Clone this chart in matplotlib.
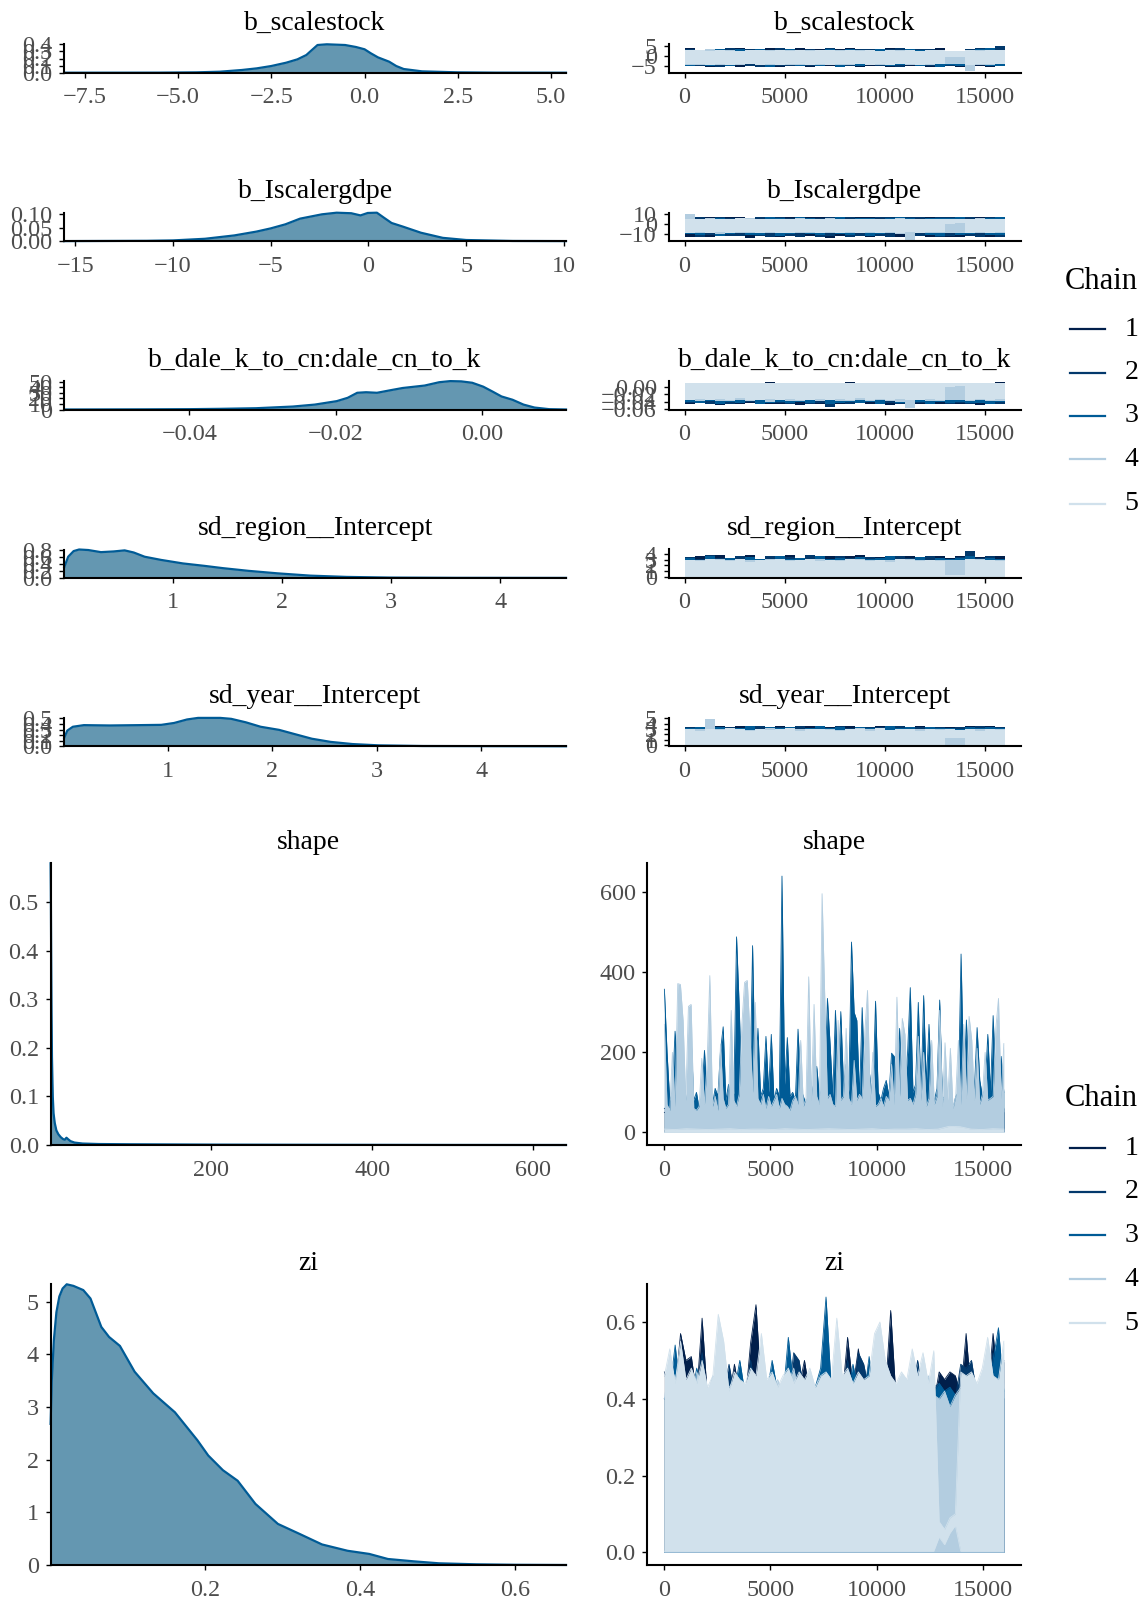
import numpy as np
import matplotlib
matplotlib.use("Agg")
import matplotlib.pyplot as plt
from matplotlib.lines import Line2D

plt.rcParams['font.family'] = ['Liberation Serif', 'DejaVu Serif']

W, H = 1148, 1605

# ---------------- data ----------------
chain_labels = ["1", "2", "3", "4", "5"]
chain_colors = ["#011f4b", "#03396c", "#005b96", "#b3cde0", "#d1e1ec"]
n_iter = 16000

titles = ["b_scalestock", "b_Iscalergdpe", "b_dale_k_to_cn:dale_cn_to_k",
          "sd_region__Intercept", "sd_year__Intercept", "shape", "zi"]

# posterior densities (x, density)
dens_scalestock_x = [-8.05, -6.5, -5.5, -4.5, -3.88, -3.29, -2.89, -2.5, -2.1, -1.8, -1.56, -1.41, -1.26,
                     -1.01, -0.52, -0.23, 0.0, 0.17, 0.36, 0.66, 0.85, 1.05, 1.54, 2.5, 3.5, 5.4]
dens_scalestock_y = [0.0, 0.0003, 0.001, 0.005, 0.014, 0.038, 0.061, 0.094, 0.141, 0.188, 0.249, 0.32, 0.39,
                     0.40, 0.39, 0.362, 0.33, 0.273, 0.216, 0.155, 0.094, 0.052, 0.019, 0.005, 0.001, 0.0]

dens_gdpe_x = [-15.56, -11.35, -10.0, -8.36, -6.86, -5.74, -5.0, -4.25, -3.5, -2.94, -2.38, -1.63,
               -0.88, -0.41, -0.04, 0.43, 0.8, 1.18, 1.74, 2.68, 3.8, 5.0, 7.37, 10.1]
dens_gdpe_y = [0.0, 0.001, 0.0025, 0.0086, 0.021, 0.035, 0.047, 0.062, 0.083, 0.091, 0.099, 0.105,
               0.103, 0.095, 0.104, 0.105, 0.086, 0.067, 0.054, 0.031, 0.012, 0.004, 0.0005, 0.0]

dens_dale_x = [-0.0571, -0.0458, -0.04, -0.0358, -0.0309, -0.0259, -0.0229, -0.0199, -0.0184, -0.0171,
               -0.0159, -0.0144, -0.0124, -0.0109, -0.0079, -0.0059, -0.0044, -0.0029, -0.0014, 0.0001,
               0.0014, 0.0026, 0.0041, 0.0056, 0.0071, 0.0091, 0.0114]
dens_dale_y = [0.0, 0.3, 0.6, 1.2, 2.3, 5.3, 8.8, 15.0, 21.0, 30.0, 31.0, 30.0, 35.0, 38.6, 43.0, 49.0,
               51.0, 50.5, 48.0, 41.0, 32.0, 23.4, 17.5, 8.8, 3.5, 0.6, 0.0]

dens_region_x = [0.0066, 0.043, 0.093, 0.143, 0.227, 0.343, 0.46, 0.56, 0.643, 0.743, 0.893, 1.093,
                 1.293, 1.46, 1.693, 1.96, 2.26, 2.59, 2.99, 3.59, 4.6]
dens_region_y = [0.30, 0.6, 0.76, 0.805, 0.79, 0.73, 0.75, 0.78, 0.72, 0.6, 0.51, 0.41, 0.34, 0.276,
                 0.20, 0.129, 0.064, 0.028, 0.009, 0.002, 0.0]

dens_year_x = [0.012, 0.042, 0.095, 0.2, 0.447, 0.729, 0.94, 1.063, 1.187, 1.292, 1.504, 1.609, 1.75,
               1.89, 2.067, 2.2, 2.38, 2.56, 2.77, 3.02, 3.44, 4.81]
dens_year_y = [0.153, 0.283, 0.351, 0.38, 0.374, 0.38, 0.385, 0.419, 0.482, 0.51, 0.51, 0.493, 0.43,
               0.351, 0.295, 0.227, 0.136, 0.079, 0.04, 0.017, 0.005, 0.0]

dens_shape_x = [0.3, 0.6, 1.0, 1.5, 2.0, 3.0, 4.0, 5.5, 7.5, 10, 13, 16, 18, 20, 22, 25, 30, 40, 60,
                100, 200, 300, 400, 500, 641]
dens_shape_y = [0.58, 0.52, 0.40, 0.27, 0.18, 0.10, 0.065, 0.045, 0.03, 0.022, 0.016, 0.012, 0.011,
                0.015, 0.012, 0.008, 0.005, 0.003, 0.002, 0.0015, 0.0008, 0.0005, 0.0003, 0.0001, 0.0]

dens_zi_x = [0.0005, 0.002, 0.0047, 0.008, 0.0118, 0.016, 0.0213, 0.03, 0.0427, 0.052, 0.066, 0.076,
             0.09, 0.109, 0.133, 0.161, 0.19, 0.204, 0.223, 0.242, 0.265, 0.294, 0.322, 0.351, 0.384,
             0.412, 0.436, 0.469, 0.502, 0.55, 0.6, 0.666]
dens_zi_y = [2.68, 3.5, 4.27, 4.8, 5.1, 5.25, 5.33, 5.3, 5.22, 5.06, 4.52, 4.33, 4.16, 3.67, 3.26, 2.9,
             2.37, 2.08, 1.8, 1.6, 1.16, 0.78, 0.59, 0.39, 0.27, 0.21, 0.114, 0.07, 0.032, 0.013, 0.004, 0.0]

# trace envelopes per chain (upper / lower value per block of iterations), chains 1..5
tr_scalestock_hi = [
    [4.0, 2.6, 3.1, 3.8, 2.7, 3.9, 2.5, 3.6, 4.1, 2.8, 3.5, 3.9, 2.6, 3.7, 2.9, 3.8,
     4.0, 2.7, 3.5, 2.9, 3.9, 2.6, 3.6, 3.8, 2.8, 4.0, 2.4, 2.6, 3.3, 3.6, 4.4, 3.8],
    [3.8, 3.2, 2.6, 3.0, 3.9, 2.7, 3.6, 3.3, 2.5, 4.1, 3.2, 2.8, 3.4, 3.1, 3.9, 2.6,
     3.0, 3.6, 3.8, 2.7, 3.5, 3.9, 2.8, 3.4, 3.7, 2.6, 2.4, 2.5, 3.8, 4.2, 3.5, 5.4],
    [3.3, 2.8, 3.0, 3.6, 2.9, 3.4, 2.8, 3.5, 3.2, 2.9, 3.7, 3.0, 2.8, 3.3, 3.6, 2.9,
     3.4, 3.1, 2.8, 3.5, 3.2, 2.9, 3.6, 3.0, 3.3, 2.9, 2.2, 2.3, 3.0, 3.8, 4.0, 3.1],
    [2.7, 2.9, 3.4, 2.6, 3.1, 2.8, 2.7, 3.0, 2.9, 2.6, 3.0, 2.8, 3.3, 2.7, 2.8, 3.1,
     2.6, 2.9, 3.0, 2.8, 2.7, 3.2, 2.9, 2.8, 3.0, 2.7, 2.4, 2.3, 2.8, 3.0, 2.9, 3.2],
    [2.9, 3.1, 2.7, 3.0, 2.8, 2.6, 3.2, 2.9, 2.7, 3.0, 2.8, 3.1, 2.6, 2.9, 3.0, 2.7,
     3.1, 2.8, 2.9, 2.6, 3.0, 2.8, 3.1, 2.7, 2.9, 3.0, 2.8, 2.7, 3.0, 2.8, 3.1, 2.9]]
tr_scalestock_lo = [
    [-5.4, -4.3, -5.6, -5.1, -4.2, -5.7, -5.0, -4.4, -4.9, -5.6, -4.3, -5.4, -5.8, -4.2, -5.2, -5.5,
     -4.4, -5.7, -5.1, -4.3, -5.6, -4.9, -5.4, -4.2, -5.8, -5.1, -5.3, -5.5, -4.4, -5.4, -5.7, -5.1],
    [-4.8, -5.3, -4.2, -5.5, -4.7, -4.3, -5.0, -5.6, -4.2, -5.1, -5.4, -4.3, -5.2, -5.0, -4.4, -4.8,
     -5.3, -4.2, -4.9, -5.4, -4.3, -5.6, -4.8, -4.2, -5.1, -4.9, -5.3, -5.0, -5.5, -4.3, -4.9, -5.2],
    [-5.0, -4.6, -5.3, -4.2, -5.4, -4.7, -4.3, -4.9, -5.5, -4.8, -4.2, -5.0, -4.7, -5.3, -4.3, -5.6,
     -4.8, -5.1, -4.2, -4.9, -5.2, -4.8, -4.3, -5.0, -4.9, -5.5, -4.8, -5.2, -5.6, -4.2, -5.1, -5.4],
    [-4.5, -4.9, -4.3, -4.6, -4.4, -4.8, -4.3, -4.5, -4.7, -4.3, -4.6, -4.5, -4.4, -4.7, -4.3, -4.5,
     -4.8, -4.4, -4.3, -4.7, -4.4, -4.3, -4.6, -4.8, -4.5, -4.4, -4.0, -4.1, -8.05, -4.6, -4.5, -4.4],
    [-4.4, -4.2, -4.6, -4.3, -4.5, -4.1, -4.4, -4.6, -4.2, -4.5, -4.3, -4.4, -4.6, -4.2, -4.5, -4.3,
     -4.4, -4.2, -4.6, -4.3, -4.5, -4.4, -4.2, -4.6, -4.3, -4.4, -0.4, -0.3, -4.5, -4.3, -4.4, -4.2]]

tr_gdpe_hi = [
    [7.0, 4.8, 7.3, 5.0, 7.5, 6.7, 4.9, 6.9, 7.4, 5.1, 7.2, 4.7, 6.8, 7.6, 5.0, 7.1,
     4.9, 7.3, 6.8, 5.2, 6.9, 7.2, 4.8, 7.4, 7.0, 5.1, 7.3, 7.1, 4.9, 7.2, 7.6, 7.0],
    [6.8, 7.2, 5.0, 7.0, 6.6, 4.8, 6.5, 7.1, 5.0, 7.3, 6.5, 6.9, 4.9, 6.6, 7.0, 5.1,
     7.2, 6.5, 4.8, 6.9, 7.4, 5.0, 7.0, 6.7, 4.9, 6.9, 7.1, 6.6, 7.2, 5.0, 7.0, 6.7],
    [6.2, 5.0, 6.6, 6.0, 4.9, 5.9, 6.4, 5.1, 6.8, 5.9, 4.8, 6.7, 6.0, 5.0, 5.9, 6.8,
     5.2, 6.0, 6.6, 4.9, 5.9, 6.7, 6.1, 5.0, 6.0, 6.6, 6.2, 6.9, 5.1, 6.5, 6.0, 6.8],
    [10.1, 5.0, 5.8, 5.1, 5.5, 5.2, 5.9, 5.0, 5.3, 5.6, 5.1, 5.7, 5.0, 5.4, 5.8, 5.1,
     5.3, 5.6, 5.0, 5.5, 5.2, 5.7, 5.1, 5.4, 5.0, 5.6, 4.5, 4.2, 5.3, 5.7, 5.0, 5.4],
    [5.2, 5.6, 4.9, 5.4, 5.1, 5.7, 5.0, 5.3, 5.5, 4.8, 5.4, 5.2, 5.6, 5.0, 5.3, 5.5,
     4.9, 5.2, 5.4, 5.1, 5.6, 5.0, 5.3, 4.9, 5.5, 5.2, 5.5, 5.3, 5.4, 5.0, 5.3, 5.1]]
tr_gdpe_lo = [
    [-12.5, -8.4, -13.2, -12.1, -8.6, -11.6, -13.4, -8.2, -11.9, -12.7, -8.5, -12.2, -11.7, -8.3, -13.3, -12.0,
     -8.6, -11.8, -13.1, -8.4, -11.9, -12.7, -8.2, -12.1, -12.5, -8.5, -13.0, -12.4, -8.3, -11.7, -12.6, -13.1],
    [-8.5, -12.6, -11.2, -8.3, -12.0, -11.6, -8.6, -11.4, -12.3, -8.4, -11.7, -12.5, -8.2, -13.0, -12.2, -8.5,
     -12.8, -12.1, -8.3, -11.8, -12.4, -8.6, -12.7, -11.6, -8.4, -12.3, -11.9, -8.5, -12.2, -13.0, -8.3, -12.5],
    [-9.5, -10.8, -8.4, -11.5, -10.2, -8.5, -11.0, -10.4, -8.3, -11.8, -10.1, -8.6, -9.8, -11.2, -8.4, -9.9,
     -10.9, -8.5, -11.4, -9.8, -8.3, -10.2, -11.1, -8.6, -10.6, -11.3, -8.4, -10.8, -9.7, -8.5, -10.4, -10.9],
    [-8.6, -8.9, -8.2, -9.3, -8.5, -8.8, -9.0, -8.4, -8.7, -9.2, -8.3, -8.6, -8.9, -8.5, -9.1, -8.4,
     -8.8, -8.6, -9.0, -8.3, -8.7, -9.3, -15.56, -8.5, -8.8, -8.6, -8.5, -8.9, -8.4, -8.7, -9.0, -8.5],
    [-8.3, -7.9, -8.6, -8.1, -8.4, -7.8, -8.2, -8.5, -8.0, -8.3, -8.6, -7.9, -8.2, -8.4, -8.1, -8.5,
     -7.9, -8.3, -8.2, -8.6, -8.0, -8.4, -8.1, -8.3, -7.9, -8.2, 0.5, 0.8, -8.4, -8.1, -8.3, -8.0]]

tr_dale_hi = [
    [0.0110, 0.0105, 0.0101, 0.0109, 0.0104, 0.0111, 0.0100, 0.0107, 0.0112, 0.0103, 0.0108, 0.0101,
     0.0110, 0.0105, 0.0102, 0.0109, 0.0114, 0.0104, 0.0100, 0.0108, 0.0103, 0.0110, 0.0105, 0.0101,
     0.0109, 0.0104, 0.0107, 0.0102, 0.0110, 0.0105, 0.0108, 0.0112],
    [0.0108, 0.0102, 0.0110, 0.0104, 0.0099, 0.0109, 0.0103, 0.0111, 0.0100, 0.0106, 0.0109, 0.0101,
     0.0107, 0.0103, 0.0110, 0.0099, 0.0106, 0.0102, 0.0109, 0.0104, 0.0111, 0.0100, 0.0107, 0.0103,
     0.0108, 0.0101, 0.0105, 0.0110, 0.0102, 0.0106, 0.0109, 0.0103],
    [0.0104, 0.0099, 0.0108, 0.0101, 0.0106, 0.0098, 0.0109, 0.0102, 0.0097, 0.0107, 0.0100, 0.0105,
     0.0098, 0.0110, 0.0101, 0.0104, 0.0099, 0.0107, 0.0102, 0.0106, 0.0098, 0.0105, 0.0100, 0.0108,
     0.0101, 0.0104, 0.0099, 0.0106, 0.0100, 0.0107, 0.0102, 0.0105],
    [0.0098, 0.0103, 0.0095, 0.0100, 0.0097, 0.0104, 0.0096, 0.0101, 0.0098, 0.0102, 0.0095, 0.0099,
     0.0103, 0.0097, 0.0100, 0.0096, 0.0102, 0.0098, 0.0095, 0.0101, 0.0097, 0.0103, 0.0099, 0.0096,
     0.0100, 0.0098, 0.0090, 0.0088, 0.0097, 0.0102, 0.0096, 0.0100],
    [0.0100, 0.0096, 0.0104, 0.0098, 0.0102, 0.0095, 0.0101, 0.0099, 0.0103, 0.0097, 0.0100, 0.0104,
     0.0096, 0.0101, 0.0099, 0.0102, 0.0097, 0.0103, 0.0100, 0.0095, 0.0102, 0.0098, 0.0101, 0.0104,
     0.0097, 0.0100, 0.0100, 0.0098, 0.0103, 0.0099, 0.0101, 0.0097]]
tr_dale_lo = [
    [-0.046, -0.042, -0.045, -0.048, -0.043, -0.046, -0.044, -0.042, -0.047, -0.045, -0.043, -0.048,
     -0.044, -0.046, -0.042, -0.045, -0.047, -0.043, -0.046, -0.044, -0.048, -0.042, -0.045, -0.047,
     -0.043, -0.046, -0.044, -0.045, -0.043, -0.048, -0.044, -0.047],
    [-0.044, -0.041, -0.047, -0.042, -0.045, -0.043, -0.040, -0.046, -0.044, -0.042, -0.047, -0.041,
     -0.045, -0.043, -0.0534, -0.042, -0.046, -0.044, -0.041, -0.045, -0.043, -0.047, -0.042, -0.044,
     -0.046, -0.041, -0.045, -0.043, -0.047, -0.042, -0.044, -0.046],
    [-0.040, -0.043, -0.039, -0.045, -0.041, -0.044, -0.038, -0.046, -0.042, -0.040, -0.044, -0.041,
     -0.043, -0.039, -0.045, -0.042, -0.040, -0.044, -0.041, -0.046, -0.039, -0.043, -0.042, -0.040,
     -0.045, -0.041, -0.043, -0.040, -0.044, -0.042, -0.046, -0.041],
    [-0.036, -0.038, -0.035, -0.039, -0.037, -0.035, -0.038, -0.036, -0.040, -0.035, -0.037, -0.039,
     -0.036, -0.038, -0.035, -0.037, -0.039, -0.036, -0.038, -0.035, -0.037, -0.040, -0.0571, -0.036,
     -0.038, -0.037, -0.034, -0.035, -0.039, -0.036, -0.038, -0.037],
    [-0.034, -0.032, -0.036, -0.033, -0.035, -0.031, -0.034, -0.036, -0.032, -0.035, -0.033, -0.034,
     -0.036, -0.032, -0.035, -0.033, -0.034, -0.031, -0.036, -0.033, -0.035, -0.032, -0.034, -0.036,
     -0.033, -0.034, 0.000, 0.001, -0.035, -0.033, -0.034, -0.032]]

tr_region_hi = [
    [3.2, 3.7, 3.4, 3.9, 3.3, 3.5, 3.8, 3.1, 3.4, 3.6, 3.9, 3.3, 3.5, 3.2, 3.7, 3.4,
     3.6, 3.8, 3.2, 3.5, 3.4, 3.3, 3.7, 3.5, 3.2, 3.6, 3.4, 3.7, 3.5, 3.5, 3.3, 3.6],
    [3.5, 3.2, 3.8, 3.3, 3.1, 3.6, 3.4, 3.0, 3.7, 3.3, 3.5, 3.2, 3.9, 3.4, 3.1, 3.6,
     3.3, 3.0, 3.5, 3.4, 3.2, 3.7, 3.3, 3.1, 3.6, 3.4, 3.2, 3.5, 4.6, 3.3, 3.6, 3.2],
    [3.3, 3.0, 3.6, 3.1, 3.4, 2.9, 3.5, 3.2, 3.0, 3.7, 3.1, 3.3, 2.9, 3.6, 3.2, 3.4,
     3.0, 3.5, 3.1, 3.3, 3.6, 2.9, 3.2, 3.5, 3.0, 3.4, 3.1, 3.3, 3.6, 3.0, 3.4, 3.2],
    [2.8, 3.0, 2.7, 3.1, 2.9, 2.6, 3.0, 2.8, 3.2, 2.7, 3.0, 2.8, 2.9, 3.1, 2.7, 3.0,
     2.8, 3.1, 2.9, 2.7, 3.0, 2.8, 3.2, 2.9, 2.7, 3.0, 3.0, 2.9, 2.8, 3.1, 2.7, 3.0],
    [3.0, 2.7, 3.2, 2.9, 2.8, 3.1, 2.6, 3.0, 2.9, 3.2, 2.7, 2.9, 3.1, 2.8, 3.0, 2.7,
     3.2, 2.9, 2.8, 3.0, 2.6, 3.1, 2.9, 2.8, 3.0, 2.7, 0.25, 0.3, 3.1, 2.9, 3.0, 2.8]]
tr_region_lo = [0.0066, 0.01, 0.01, 0.015, 0.02]

tr_year_hi = [
    [3.4, 3.2, 3.1, 3.5, 3.3, 3.6, 3.1, 3.4, 3.2, 3.5, 3.3, 3.1, 3.6, 3.2, 3.4, 3.3,
     3.5, 3.1, 3.3, 3.6, 3.2, 3.4, 3.1, 3.5, 3.3, 3.2, 3.4, 3.3, 3.5, 3.2, 3.6, 3.4],
    [3.3, 3.0, 3.5, 3.2, 3.4, 3.1, 3.3, 3.6, 3.0, 3.4, 3.2, 3.5, 3.1, 3.3, 3.0, 3.6,
     3.2, 3.0, 3.4, 3.3, 3.1, 3.5, 3.2, 3.4, 3.1, 3.3, 3.2, 3.4, 3.0, 3.5, 3.2, 3.3],
    [3.1, 3.3, 2.9, 3.4, 3.0, 3.2, 3.5, 2.9, 3.3, 3.1, 3.4, 3.0, 3.2, 3.5, 3.1, 3.3,
     2.9, 3.4, 3.2, 3.0, 3.5, 3.1, 3.3, 3.0, 3.4, 3.2, 3.1, 3.0, 3.3, 3.1, 3.4, 3.2],
    [2.7, 3.0, 4.81, 2.9, 2.7, 3.0, 2.8, 2.6, 3.1, 2.8, 2.7, 3.0, 2.9, 2.6, 3.0, 2.8,
     2.7, 3.1, 2.9, 2.8, 2.6, 3.0, 2.8, 2.9, 2.7, 3.0, 2.6, 2.5, 2.8, 3.0, 2.7, 2.9],
    [2.9, 2.7, 3.0, 2.8, 3.1, 2.9, 2.6, 3.0, 2.8, 2.9, 3.1, 2.7, 2.9, 3.0, 2.8, 2.6,
     3.0, 2.9, 2.7, 3.1, 2.8, 3.0, 2.9, 2.7, 3.0, 2.8, 2.9, 2.8, 3.0, 2.7, 2.9, 2.8]]
tr_year_lo = [
    0.012, 0.015, 0.015, 0.02,
    [0.02, 0.02, 0.02, 0.02, 0.02, 0.02, 0.02, 0.02, 0.02, 0.02, 0.02, 0.02, 0.02, 0.02, 0.02, 0.02,
     0.02, 0.02, 0.02, 0.02, 0.02, 0.02, 0.02, 0.02, 0.02, 0.02, 1.4, 1.3, 0.02, 0.02, 0.02, 0.02]]

tr_shape_hi = [
    [50, 40, 70, 35, 60, 45, 80, 40, 55, 35, 70, 50, 40, 60, 35, 55,
     45, 70, 40, 55, 35, 60, 50, 40, 70, 55, 55, 35, 60, 40, 55, 50],
    [60, 45, 35, 70, 40, 55, 50, 35, 75, 45, 40, 55, 70, 35, 60, 45,
     40, 55, 35, 70, 45, 40, 60, 55, 35, 45, 40, 60, 35, 55, 45, 60],
    [358, 200, 80, 100, 253, 165, 90, 170, 70, 110, 240, 80, 100, 60, 90, 205,
     80, 100, 70, 110, 90, 205, 264, 80, 120, 70, 100, 489, 314, 90, 110, 80,
     100, 467, 120, 260, 90, 110, 240, 100, 245, 80, 110, 90, 641, 120, 237, 90,
     100, 80, 258, 110, 90, 70, 100, 120, 80, 165, 90, 110, 100, 335, 220, 90,
     305, 110, 302, 120, 170, 100, 476, 300, 280, 90, 312, 110, 200, 130, 90, 328,
     100, 80, 110, 130, 90, 198, 190, 100, 260, 90, 110, 200, 362, 100, 120, 325,
     90, 342, 120, 270, 100, 80, 110, 331, 85, 90, 70, 80, 60, 90, 100, 446,
     120, 281, 100, 90, 110, 262, 130, 90, 110, 245, 100, 292, 120, 110, 190, 100],
    [270, 70, 55, 200, 65, 372, 370, 280, 80, 315, 320, 60, 55, 65, 185, 70,
     175, 392, 65, 90, 55, 220, 85, 60, 70, 305, 80, 65, 95, 270, 375, 380,
     250, 100, 325, 85, 70, 95, 60, 90, 65, 80, 95, 60, 85, 70, 65, 55,
     80, 90, 70, 230, 65, 85, 389, 80, 320, 90, 70, 597, 338, 85, 95, 70,
     65, 280, 80, 90, 260, 85, 70, 180, 80, 95, 85, 250, 355, 80, 200, 65,
     70, 85, 65, 90, 80, 170, 70, 338, 90, 285, 245, 80, 85, 70, 95, 240,
     80, 200, 65, 85, 230, 70, 90, 305, 65, 224, 80, 210, 60, 90, 230, 70,
     270, 85, 290, 230, 80, 210, 70, 95, 200, 80, 85, 90, 260, 335, 85, 222],
    [8, 7, 9, 8, 7, 8, 9, 7, 8, 8, 7, 9, 8, 7, 8, 9,
     8, 7, 8, 9, 7, 8, 8, 9, 7, 8, 15, 14, 8, 7, 9, 8]]
tr_shape_lo = [1.0, 1.0, 1.0, 1.0, 0.3]

tr_zi_hi = [
    [0.47, 0.40, 0.42, 0.57, 0.50, 0.51, 0.41, 0.61, 0.40, 0.44, 0.39, 0.42, 0.40, 0.49, 0.41, 0.39,
     0.545, 0.645, 0.42, 0.40, 0.44, 0.41, 0.39, 0.42, 0.40, 0.43, 0.50, 0.41, 0.40, 0.42, 0.39, 0.41,
     0.42, 0.40, 0.56, 0.43, 0.53, 0.41, 0.49, 0.40, 0.42, 0.41, 0.63, 0.40, 0.43, 0.39, 0.42, 0.41,
     0.40, 0.42, 0.39, 0.47, 0.45, 0.47, 0.46, 0.41, 0.57, 0.40, 0.42, 0.39, 0.41, 0.57, 0.43, 0.40],
    [0.40, 0.42, 0.44, 0.41, 0.43, 0.40, 0.42, 0.52, 0.41, 0.44, 0.40, 0.42, 0.49, 0.41, 0.43, 0.40,
     0.50, 0.42, 0.44, 0.40, 0.47, 0.41, 0.43, 0.40, 0.52, 0.50, 0.41, 0.43, 0.40, 0.42, 0.41, 0.43,
     0.40, 0.42, 0.50, 0.41, 0.52, 0.49, 0.42, 0.40, 0.43, 0.50, 0.41, 0.42, 0.40, 0.44, 0.41, 0.50,
     0.42, 0.40, 0.43, 0.44, 0.42, 0.43, 0.40, 0.49, 0.48, 0.50, 0.41, 0.43, 0.40, 0.52, 0.42, 0.50],
    [0.40, 0.42, 0.54, 0.41, 0.43, 0.40, 0.48, 0.42, 0.40, 0.43, 0.41, 0.49, 0.40, 0.42, 0.50, 0.41,
     0.43, 0.40, 0.42, 0.41, 0.50, 0.42, 0.40, 0.56, 0.43, 0.41, 0.42, 0.40, 0.43, 0.48, 0.665, 0.42,
     0.40, 0.43, 0.41, 0.49, 0.42, 0.40, 0.51, 0.41, 0.42, 0.44, 0.40, 0.43, 0.41, 0.42, 0.50, 0.40,
     0.41, 0.43, 0.42, 0.44, 0.42, 0.43, 0.41, 0.40, 0.42, 0.40, 0.43, 0.42, 0.41, 0.50, 0.585, 0.42],
    [0.40, 0.50, 0.45, 0.52, 0.42, 0.38, 0.47, 0.43, 0.41, 0.46, 0.44, 0.40, 0.43, 0.45, 0.39, 0.42,
     0.44, 0.41, 0.46, 0.43, 0.40, 0.45, 0.42, 0.44, 0.48, 0.41, 0.43, 0.46, 0.40, 0.44, 0.42, 0.45,
     0.43, 0.41, 0.47, 0.44, 0.42, 0.40, 0.45, 0.43, 0.46, 0.44, 0.41, 0.43, 0.42, 0.45, 0.40, 0.44,
     0.43, 0.46, 0.41, 0.40, 0.42, 0.38, 0.41, 0.43, 0.45, 0.42, 0.40, 0.44, 0.43, 0.46, 0.42, 0.44],
    [0.46, 0.53, 0.44, 0.55, 0.45, 0.48, 0.44, 0.50, 0.43, 0.46, 0.62, 0.55, 0.42, 0.47, 0.45, 0.44,
     0.48, 0.46, 0.57, 0.45, 0.47, 0.43, 0.46, 0.48, 0.44, 0.47, 0.45, 0.48, 0.43, 0.46, 0.47, 0.45,
     0.61, 0.46, 0.48, 0.44, 0.47, 0.45, 0.46, 0.57, 0.60, 0.50, 0.46, 0.44, 0.47, 0.45, 0.53, 0.46,
     0.52, 0.44, 0.525, 0.08, 0.06, 0.09, 0.10, 0.47, 0.46, 0.47, 0.44, 0.48, 0.56, 0.46, 0.45, 0.55]]
tr_zi_lo = [
    0.0003, 0.001, 0.001, 0.002,
    [0.003, 0.003, 0.003, 0.003, 0.003, 0.003, 0.003, 0.003, 0.003, 0.003, 0.003, 0.003, 0.003, 0.003, 0.003, 0.003,
     0.003, 0.003, 0.003, 0.003, 0.003, 0.003, 0.003, 0.003, 0.003, 0.003, 0.003, 0.003, 0.003, 0.003, 0.003, 0.003,
     0.003, 0.003, 0.003, 0.003, 0.003, 0.003, 0.003, 0.003, 0.003, 0.003, 0.003, 0.003, 0.003, 0.003, 0.003, 0.003,
     0.003, 0.003, 0.003, 0.04, 0.02, 0.05, 0.07, 0.003, 0.003, 0.003, 0.003, 0.003, 0.003, 0.003, 0.003, 0.003]]

# tick specifications (values, decimals)
dens_xticks = [([-7.5, -5.0, -2.5, 0.0, 2.5, 5.0], 1), ([-15, -10, -5, 0, 5, 10], 0),
               ([-0.04, -0.02, 0.0], 2), ([1, 2, 3, 4], 0), ([1, 2, 3, 4], 0),
               ([200, 400, 600], 0), ([0.2, 0.4, 0.6], 1)]
dens_yticks = [([0, 0.1, 0.2, 0.3, 0.4], 1), ([0, 0.05, 0.10], 2), ([0, 10, 20, 30, 40, 50], 0),
               ([0, 0.2, 0.4, 0.6, 0.8], 1), ([0, 0.1, 0.2, 0.3, 0.4, 0.5], 1),
               ([0, 0.1, 0.2, 0.3, 0.4, 0.5], 1), ([0, 1, 2, 3, 4, 5], 0)]
trace_yticks = [([-5, 0, 5], 0), ([-10, 0, 10], 0), ([-0.06, -0.04, -0.02, 0.0], 2),
                ([0, 1, 2, 3, 4], 0), ([0, 1, 2, 3, 4, 5], 0), ([0, 200, 400, 600], 0),
                ([0.0, 0.2, 0.4, 0.6], 1)]
trace_xticks = [0, 5000, 10000, 15000]

densities = [(dens_scalestock_x, dens_scalestock_y), (dens_gdpe_x, dens_gdpe_y), (dens_dale_x, dens_dale_y),
             (dens_region_x, dens_region_y), (dens_year_x, dens_year_y), (dens_shape_x, dens_shape_y),
             (dens_zi_x, dens_zi_y)]
traces = [(tr_scalestock_hi, tr_scalestock_lo), (tr_gdpe_hi, tr_gdpe_lo), (tr_dale_hi, tr_dale_lo),
          (tr_region_hi, tr_region_lo), (tr_year_hi, tr_year_lo), (tr_shape_hi, tr_shape_lo),
          (tr_zi_hi, tr_zi_lo)]

# ---------------- layout (pixels) ----------------
TICK_SIZE = 17.4
TITLE_SIZE = 20
TICK_COLOR = "#4d4d4d"


def lab(v, d):
    s = f"{v:.{d}f}"
    if s.startswith('-'):
        s = s[1:] if float(s) == 0 else '\u2212' + s[1:]
    return s


fig = plt.figure(figsize=(W / 100, H / 100), dpi=100)
fig.patch.set_facecolor('white')


def add_ax(x0, y0, x1, y1):
    return fig.add_axes([x0 / W, 1 - y1 / H, (x1 - x0) / W, (y1 - y0) / H])


def style(ax):
    for s in ['top', 'right']:
        ax.spines[s].set_visible(False)
    for s in ['left', 'bottom']:
        ax.spines[s].set_linewidth(1.5)
        ax.spines[s].set_color('black')
        ax.spines[s].set_zorder(10)
    ax.tick_params(axis='both', length=3.5, width=1.0, color='black',
                   labelsize=TICK_SIZE, labelcolor=TICK_COLOR)
    ax.tick_params(axis='x', pad=7)
    ax.tick_params(axis='y', pad=5)
    ax.set_facecolor('none')


def title(ax_rect, text):
    x0, y0, x1, y1 = ax_rect
    fig.text((x0 + x1) / 2 / W, 1 - (y0 - 21) / H, text, ha='center', va='center',
             fontsize=TITLE_SIZE, color='black')


def draw_density(ax, i):
    x, y = densities[i]
    ax.fill_between(x, 0, y, color="#6497b1", lw=0, zorder=1)
    ax.plot(x, y, color="#005b96", lw=1.6, clip_on=False, solid_joinstyle='round', zorder=2)
    ax.set_xlim(min(x), max(x))
    ax.set_ylim(0, max(y))
    xt, xd = dens_xticks[i]
    yt, yd = dens_yticks[i]
    ax.set_xticks(xt, [lab(v, xd) for v in xt])
    ax.set_yticks(yt, [lab(v, yd) for v in yt])


def draw_trace(ax, i, stepped):
    his, los = traces[i]
    allv = []
    for c in range(5):
        hi = np.asarray(his[c], dtype=float)
        lo = np.broadcast_to(np.asarray(los[c], dtype=float), hi.shape)
        allv += [hi.min(), hi.max(), lo.min(), lo.max()]
        z = 1 + c
        if stepped:
            it = np.linspace(1, n_iter, len(hi) + 1)
            hh = np.append(hi, hi[-1])
            ll = np.append(lo, lo[-1])
            ax.fill_between(it, ll, hh, step='post', color=chain_colors[c], lw=0, zorder=z)
        else:
            it = np.linspace(1, n_iter, len(hi))
            ax.fill_between(it, lo, hi, color=chain_colors[c], lw=0, zorder=z)
            ax.plot(it, hi, color=chain_colors[c], lw=0.6, zorder=z + 0.5)
            ax.plot(it, lo, color=chain_colors[c], lw=0.6, zorder=z + 0.5)
    lo_v, hi_v = min(allv), max(allv)
    pad = 0.05 * (hi_v - lo_v)
    ax.set_ylim(lo_v - pad, hi_v + pad)
    xpad = 0.05 * (n_iter - 1)
    ax.set_xlim(1 - xpad, n_iter + xpad)
    ax.set_xticks(trace_xticks, [str(v) for v in trace_xticks])
    yt, yd = trace_yticks[i]
    ax.set_yticks(yt, [lab(v, yd) for v in yt])


# top five rows
for k in range(5):
    top = 44.3 + 168.4 * k
    bot = 72.7 + 168.4 * k
    rl = (64.2, top, 566.0, bot)
    rr = (668.6, top, 1020.8, bot)
    axl = add_ax(*rl)
    style(axl)
    draw_density(axl, k)
    title(rl, titles[k])
    axr = add_ax(*rr)
    style(axr)
    draw_trace(axr, k, True)
    title(rr, titles[k])

# bottom two rows
for k, (top, bot) in zip([5, 6], [(863.3, 1145.0), (1284.3, 1565.0)]):
    rl = (50.6, top, 566.0, bot)
    rr = (647.4, top, 1020.8, bot)
    axl = add_ax(*rl)
    style(axl)
    draw_density(axl, k)
    title(rl, titles[k])
    axr = add_ax(*rr)
    style(axr)
    draw_trace(axr, k, False)
    title(rr, titles[k])


# legends
def legend(title_y, ys):
    fig.text(1101.5 / W, 1 - title_y / H, "Chain", ha='center', va='center', fontsize=22, color='black')
    for c, yy in enumerate(ys):
        fig.add_artist(Line2D([1070 / W, 1105 / W], [1 - yy / H, 1 - yy / H],
                              color=chain_colors[c], lw=1.6))
        fig.text(1131.7 / W, 1 - yy / H, chain_labels[c], ha='center', va='center',
                 fontsize=20, color='black')


legend(281.7, [329.3, 372.7, 415.7, 459.3, 504.0])
legend(1098.3, [1148.3, 1191.7, 1235.0, 1279.0, 1323.3])

fig.savefig("out.png", dpi=100, facecolor='white')
